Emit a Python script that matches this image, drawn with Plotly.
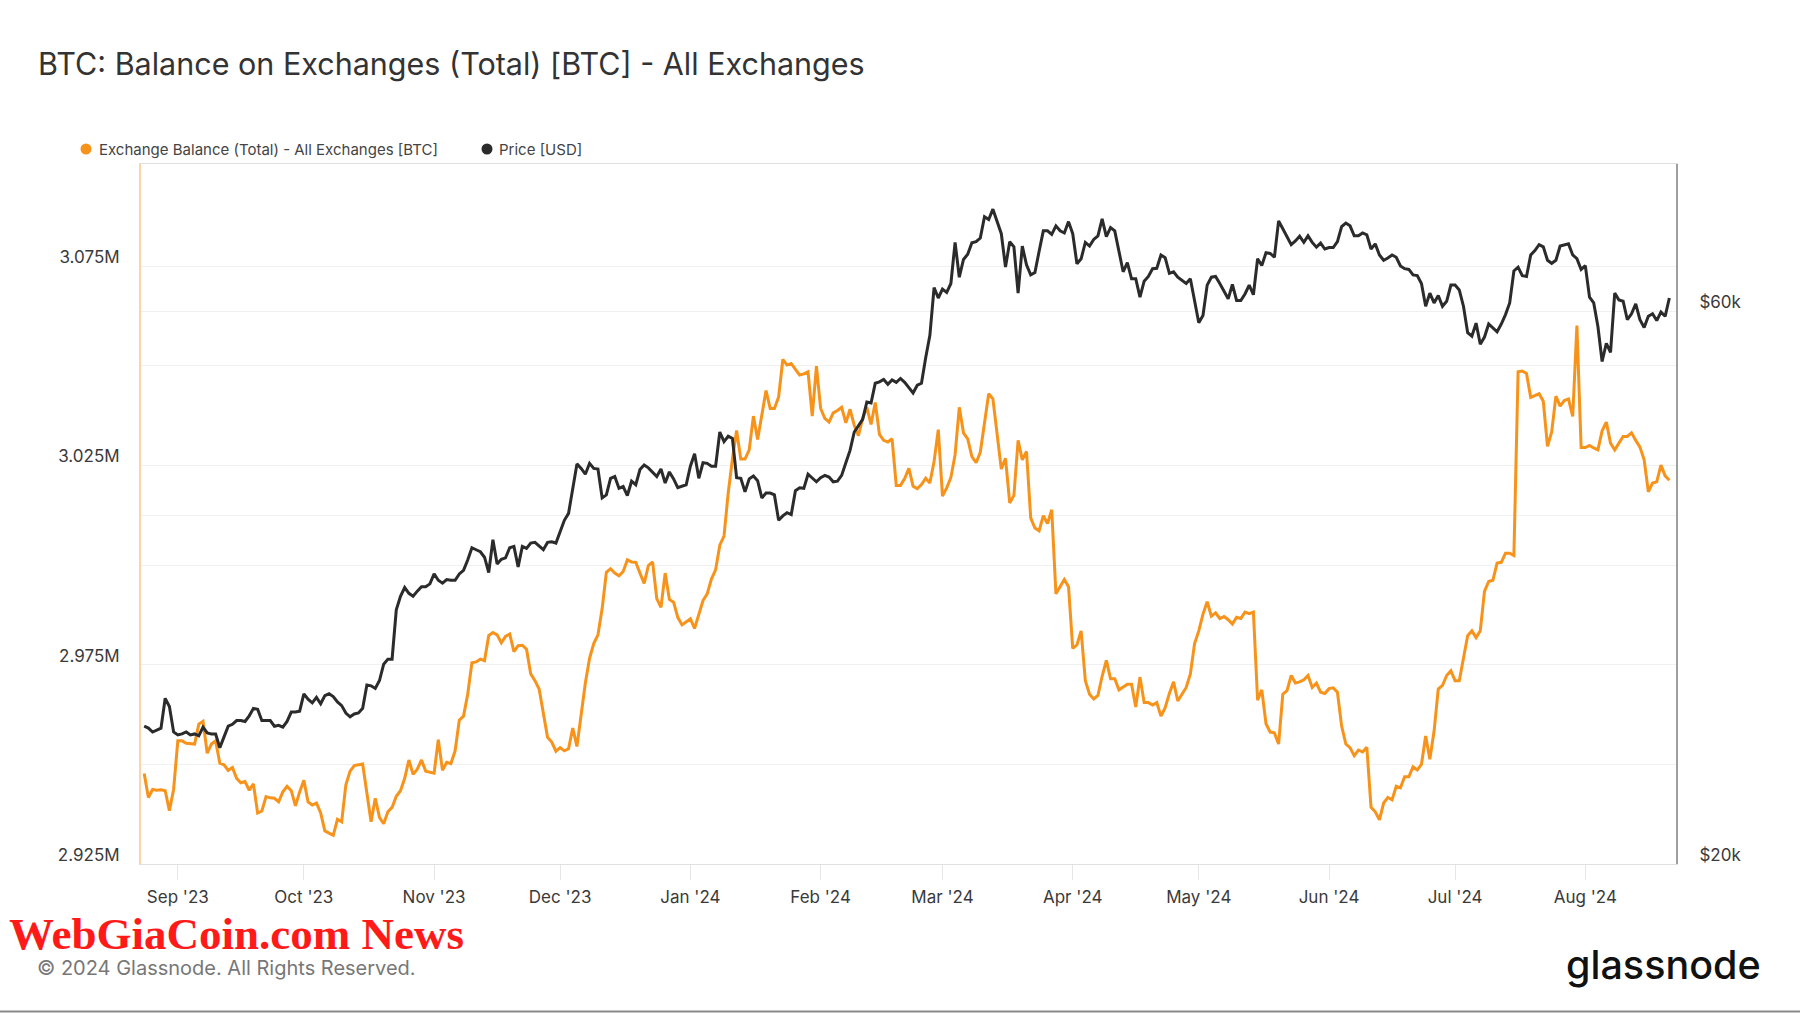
import pandas as pd
import plotly.graph_objects as go

# ---------------- data ----------------
FIRST_DAY = "2023-08-24"   # daily values from this date onward

# Exchange Balance (Total) - All Exchanges, thousands of BTC, one value per day
balance_kbtc = [
    2947.7, 2941.7, 2943.7, 2943.5, 2943.6, 2943.4, 2938.4, 2943.7,            # Aug 24 - Aug 31
    2955.9, 2955.9, 2955.3, 2955.2, 2955.1, 2960.1, 2960.8, 2952.8, 2955.1, 2955.9,
    2950.3, 2949.9, 2948.5, 2949.2, 2946.5, 2945.4, 2945.7, 2943.5, 2945.1, 2937.8,
    2938.3, 2941.9, 2941.6, 2941.5, 2940.6, 2943.1, 2944.5, 2943.4, 2939.6, 2943.1,  # Sep
    2946.0, 2940.6, 2939.8, 2940.3, 2937.8, 2933.3, 2932.7, 2932.2, 2936.2, 2935.6,
    2944.9, 2948.3, 2949.7, 2949.9, 2950.1, 2942.8, 2935.6, 2941.5, 2936.7, 2935.1,
    2938.1, 2939.2, 2942.0, 2943.4, 2946.5, 2951.1, 2947.5, 2948.8, 2951.1, 2948.3,
    2948.0,                                                                      # Oct
    2947.8, 2956.2, 2948.5, 2950.5, 2950.2, 2953.4, 2961.1, 2962.1, 2967.6, 2975.5,
    2975.7, 2976.4, 2976.0, 2982.3, 2983.1, 2982.5, 2980.5, 2982.1, 2982.7, 2978.3,
    2979.8, 2979.9, 2978.9, 2972.7, 2971.0, 2968.9, 2962.5, 2956.8, 2955.6, 2953.3,  # Nov
    2954.2, 2953.4, 2953.9, 2959.1, 2954.5, 2962.5, 2970.4, 2976.6, 2980.3, 2982.5,
    2989.1, 2998.2, 2999.1, 2998.0, 2997.3, 2998.4, 3001.3, 3000.8, 3000.7, 2998.0,
    2995.4, 2999.9, 3000.8, 2991.6, 2989.4, 2998.0, 2991.4, 2990.7, 2986.9, 2985.0,
    2985.7,                                                                      # Dec
    2986.5, 2984.1, 2987.4, 2991.1, 2992.8, 2996.5, 2998.8, 3005.0, 3007.3, 3018.1,
    3026.6, 3033.8, 3026.6, 3026.6, 3028.9, 3037.4, 3031.5, 3037.4, 3043.8, 3039.3,
    3039.3, 3042.2, 3051.6, 3050.2, 3050.6, 3049.1, 3047.7, 3048.0, 3048.5, 3037.4,
    3049.9,                                                                      # Jan
    3039.3, 3036.8, 3035.9, 3038.2, 3038.8, 3039.6, 3035.7, 3039.1, 3035.1, 3032.5,
    3036.8, 3039.6, 3035.3, 3040.8, 3032.8, 3031.3, 3030.9, 3031.7, 3020.0, 3020.0,
    3021.7, 3024.3, 3019.8, 3019.2, 3020.2, 3021.8, 3020.6, 3026.0, 3034.0,        # Feb
    3017.3, 3019.4, 3022.0, 3027.7, 3039.6, 3033.2, 3031.7, 3027.2, 3025.7, 3028.3,
    3036.2, 3043.0, 3041.7, 3032.8, 3024.1, 3026.8, 3015.6, 3017.5, 3031.3, 3026.4,
    3028.5, 3011.8, 3009.3, 3008.6, 3012.4, 3010.4, 3013.9, 2992.8, 2994.8, 2996.4,
    2994.6,                                                                      # Mar
    2979.1, 2980.0, 2983.5, 2971.0, 2967.6, 2966.4, 2967.3, 2972.1, 2976.1, 2971.5,
    2971.5, 2968.7, 2969.3, 2970.1, 2970.1, 2964.4, 2971.9, 2965.5, 2965.5, 2964.9,
    2965.5, 2962.1, 2964.2, 2967.8, 2970.7, 2965.9, 2967.6, 2969.3, 2972.7, 2980.3,  # Apr
    2983.5, 2987.7, 2990.8, 2987.2, 2988.0, 2986.6, 2987.1, 2986.3, 2985.2, 2986.9,
    2986.6, 2988.2, 2987.8, 2988.2, 2966.1, 2968.7, 2960.2, 2958.1, 2957.9, 2955.1,
    2967.6, 2968.5, 2972.3, 2970.4, 2970.7, 2971.2, 2972.3, 2969.3, 2970.4, 2968.1,
    2967.8,                                                                      # May
    2969.0, 2969.2, 2968.1, 2959.6, 2955.1, 2954.2, 2952.2, 2953.6, 2953.1, 2954.3,
    2939.2, 2938.1, 2936.1, 2940.3, 2941.7, 2941.1, 2944.5, 2944.1, 2946.9, 2946.9,
    2949.4, 2948.6, 2950.0, 2957.1, 2951.3, 2958.3, 2968.9, 2969.8, 2972.3, 2973.5,  # Jun
    2971.0, 2971.0, 2976.6, 2982.3, 2983.5, 2981.8, 2983.5, 2993.4, 2995.9, 2996.2,
    3000.5, 3000.7, 3003.0, 3003.0, 3002.4, 3048.5, 3048.7, 3048.1, 3042.1, 3042.5,
    3043.0, 3041.1, 3029.8, 3033.4, 3042.4, 3039.9, 3041.3, 3041.7, 3037.3, 3060.1,
    3029.5,                                                                      # Jul
    3029.5, 3030.0, 3029.4, 3028.9, 3033.7, 3035.9, 3030.6, 3028.9, 3030.6, 3032.3,
    3032.3, 3033.2, 3031.3, 3029.6, 3026.4, 3018.4, 3020.6, 3020.9, 3025.1, 3022.4,
    3021.3,                                                                      # Aug 1 - Aug 21
]

# Price [USD], thousands of USD, one value per day (same dates)
price_kusd = [
    26.3, 26.2, 26.0, 26.1, 26.2, 27.8, 27.35, 26.0,
    25.85, 25.9, 26.0, 25.85, 25.9, 25.8, 26.25, 25.95, 25.9, 25.9,
    25.2, 25.75, 26.3, 26.4, 26.6, 26.6, 26.55, 26.85, 27.25, 27.2,
    26.6, 26.6, 26.6, 26.3, 26.35, 26.25, 26.55, 27.05, 27.05, 27.1,
    28.05, 27.75, 27.55, 27.85, 27.5, 27.95, 28.05, 27.9, 27.6, 27.4,
    27.0, 26.8, 26.95, 27.0, 27.25, 28.55, 28.5, 28.35, 28.8, 29.75,
    30.05, 30.05, 33.15, 34.05, 34.65, 34.25, 34.05, 34.4, 34.7, 34.7,
    34.9,
    35.6, 35.15, 34.95, 35.2, 35.15, 35.15, 35.6, 35.85, 36.6, 37.5,
    37.35, 37.2, 36.8, 35.7, 38.1, 36.3, 36.65, 36.75, 37.5, 37.6,
    36.1, 37.6, 37.45, 37.85, 37.9, 37.6, 37.35, 37.9, 37.95, 37.85,
    38.8, 39.6, 40.15, 42.2, 44.3, 43.9, 43.4, 44.35, 43.9, 43.85,
    41.4, 41.65, 43.05, 43.2, 42.2, 42.35, 41.6, 42.8, 42.5, 43.8,
    44.2, 43.95, 43.6, 43.2, 43.85, 42.65, 43.6, 43.0, 42.25, 42.35,
    42.5,
    44.1, 45.2, 43.05, 44.4, 44.35, 44.1, 44.1, 47.2, 46.3, 46.8,
    46.6, 43.1, 43.05, 41.9, 43.0, 43.25, 42.85, 41.4, 41.8, 41.8,
    41.65, 39.6, 39.95, 40.2, 40.05, 42.0, 42.25, 42.2, 43.4, 43.05,
    42.75,
    43.1, 43.3, 43.15, 42.75, 42.8, 43.3, 44.4, 45.5, 47.2, 47.75,
    48.4, 50.1, 50.0, 52.0, 52.15, 52.4, 51.9, 52.35, 52.1, 52.5,
    52.1, 51.55, 51.0, 51.8, 52.0, 54.7, 57.2, 62.9, 61.6,
    62.7, 62.3, 63.4, 68.8, 64.2, 66.5, 67.2, 68.75, 68.9, 69.4,
    72.4, 72.0, 73.5, 71.8, 70.0, 65.5, 68.9, 68.2, 62.2, 68.3,
    65.8, 64.5, 64.8, 67.6, 70.4, 70.4, 69.9, 71.1, 70.4, 70.1,
    71.7,
    70.0, 65.95, 66.6, 68.8, 68.3, 69.2, 69.7, 72.1, 69.6, 70.85,
    70.4, 67.6, 64.9, 66.1, 64.0, 64.0, 61.7, 63.7, 64.3, 65.3,
    65.35, 67.1, 66.75, 64.7, 64.9, 64.2, 63.8, 63.4, 64.0, 61.0,
    58.65, 59.5, 63.2, 64.2, 64.3, 63.4, 62.5, 61.5, 63.3, 61.3,
    61.3, 62.1, 63.2, 62.0, 66.6, 65.7, 67.4, 67.3, 66.8, 71.8,
    70.7, 69.65, 68.5, 69.0, 69.65, 68.8, 69.7, 68.8, 68.15, 68.7,
    67.9,
    68.1, 68.1, 68.9, 71.0, 71.5, 71.1, 69.7, 69.7, 70.1, 69.85,
    67.9, 68.6, 67.1, 66.4, 66.7, 67.1, 66.8, 65.65, 65.3, 65.2,
    64.5, 64.4, 63.4, 60.6, 62.2, 61.0, 61.9, 60.6, 61.2, 63.2,
    63.2, 62.6, 60.6, 57.5, 57.1, 58.6, 56.2, 57.0, 58.5, 58.1,
    57.6, 58.5, 59.6, 61.0, 65.0, 65.5, 64.4, 64.3, 67.1, 67.7,
    68.5, 68.2, 66.4, 66.0, 66.4, 68.3, 68.5, 68.6, 67.1, 66.6,
    65.2,
    65.7, 61.7, 61.0, 58.2, 54.3, 56.3, 55.3, 62.2, 61.35, 61.2,
    59.0, 59.7, 60.9, 59.0, 58.1, 59.4, 59.7, 58.9, 59.9, 59.4,
    61.6,
]

month_ticks = ["2023-09-01", "2023-10-01", "2023-11-01", "2023-12-01", "2024-01-01",
               "2024-02-01", "2024-03-01", "2024-04-01", "2024-05-01", "2024-06-01",
               "2024-07-01", "2024-08-01"]
month_labels = ["Sep '23", "Oct '23", "Nov '23", "Dec '23", "Jan '24", "Feb '24",
                "Mar '24", "Apr '24", "May '24", "Jun '24", "Jul '24", "Aug '24"]

balance_tickvals = [2925000, 2950000, 2975000, 3000000, 3025000, 3050000, 3075000]
balance_ticktext = ["2.925M", "", "2.975M", "", "3.025M", "", "3.075M"]
price_tickvals = [20000, 40000, 60000]
price_ticktext = ["$20k", "", "$60k"]

series_names = ["Exchange Balance (Total) - All Exchanges [BTC]", "Price [USD]"]

# ---------------- styling ----------------
ORANGE = "#F7931A"
DARK = "#2B2B2B"
FONT = "Inter, Noto Sans, sans-serif"
GRID = "#F0F0F0"

dates_bal = pd.date_range(FIRST_DAY, periods=len(balance_kbtc), freq="D")
dates_px = pd.date_range(FIRST_DAY, periods=len(price_kusd), freq="D")

fig = go.Figure()
fig.add_trace(go.Scatter(
    x=dates_bal, y=[v * 1000 for v in balance_kbtc], name=series_names[0],
    mode="lines", line=dict(color=ORANGE, width=3), yaxis="y", showlegend=False,
))
fig.add_trace(go.Scatter(
    x=dates_px, y=[v * 1000 for v in price_kusd], name=series_names[1],
    mode="lines", line=dict(color=DARK, width=3), yaxis="y2", showlegend=False,
))

# plot area: x 141..1676 px, y 164..864 px
L, R, T, B = 141, 124, 164, 149
PW, PH = 1800 - L - R, 1013 - T - B


def px(X):
    return (X - L) / PW


def py(Y):
    return (T + PH - Y) / PH


fig.update_layout(
    width=1800, height=1013, autosize=False,
    margin=dict(l=L, r=R, t=T, b=B),
    paper_bgcolor="white", plot_bgcolor="white",
    font=dict(family=FONT, color="#3A3A3A"),
    title=dict(
        text="BTC: Balance on Exchanges (Total) [BTC] - All Exchanges",
        font=dict(family=FONT, size=30.5, color="#333333"),
        x=38 / 1800, xref="container", xanchor="left",
        y=1 - 64 / 1013, yref="container", yanchor="middle",
    ),
    xaxis=dict(
        type="date", range=["2023-08-23 05:45", "2024-08-22 14:00"],
        tickvals=month_ticks, ticktext=month_labels,
        ticks="outside", ticklen=15, tickwidth=1, tickcolor="#E6E6E6",
        tickfont=dict(size=17, color="#3A3A3A"), ticklabelstandoff=3,
        showgrid=False, zeroline=False,
        showline=True, linecolor="#E0E0E0", linewidth=1, mirror=True,
    ),
    yaxis=dict(
        range=[2925000, 3100650],
        tickvals=balance_tickvals, ticktext=balance_ticktext,
        ticks="", tickfont=dict(size=17, color="#3A3A3A"),
        ticklabelstandoff=16, ticklabelshift=-9,
        showgrid=True, gridcolor=GRID, gridwidth=1, zeroline=False,
        showline=True, linecolor="#FFD3A8", linewidth=2,
    ),
    yaxis2=dict(
        type="log", range=[4.30103, 4.90526], overlaying="y", side="right",
        tickvals=price_tickvals, ticktext=price_ticktext,
        ticks="", tickfont=dict(size=17, color="#3A3A3A"),
        ticklabelstandoff=18, ticklabelshift=-9,
        showgrid=True, gridcolor=GRID, gridwidth=1, zeroline=False,
        showline=True, linecolor="#9E9E9E", linewidth=2,
    ),
)

# legend (drawn as dots + text, as in the reference)
legend_y = py(149)
for name, color, dot_x, text_x in [(series_names[0], ORANGE, 86, 97),
                                   (series_names[1], DARK, 487, 497)]:
    fig.add_shape(type="circle", xref="paper", yref="paper",
                  xsizemode="pixel", ysizemode="pixel",
                  xanchor=px(dot_x), yanchor=legend_y,
                  x0=-5.5, x1=5.5, y0=-5.5, y1=5.5,
                  fillcolor=color, line=dict(width=0))
    fig.add_annotation(text=name, xref="paper", yref="paper",
                       x=px(text_x), y=legend_y, xanchor="left", yanchor="middle",
                       showarrow=False, font=dict(family=FONT, size=15, color="#444444"))

# footer texts
fig.add_annotation(text="WebGiaCoin.com News", xref="paper", yref="paper",
                   x=px(7), y=py(934), xanchor="left", yanchor="middle", showarrow=False,
                   font=dict(family="Liberation Serif, DejaVu Serif, serif", size=45,
                             color="#FF1A1A", weight="bold"))
fig.add_annotation(text="© 2024 Glassnode. All Rights Reserved.", xref="paper", yref="paper",
                   x=px(35), y=py(968), xanchor="left", yanchor="middle", showarrow=False,
                   font=dict(family=FONT, size=20, color="#777777"))
fig.add_annotation(text="glassnode", xref="paper", yref="paper",
                   x=px(1763), y=py(965), xanchor="right", yanchor="middle", showarrow=False,
                   font=dict(family=FONT, size=39.5, color="#111111", weight=500))

# thin grey rule at the very bottom of the image
fig.add_shape(type="line", xref="paper", yref="paper",
              x0=px(0), x1=px(1800), y0=py(1011.5), y1=py(1011.5),
              line=dict(color="#8A8A8A", width=2))

# the page itself should have no body margin so the figure sits at (0, 0)
fig.write_html("out.html",
               config={"displayModeBar": False},
               post_script="document.body.style.margin='0';document.body.style.overflow='hidden';")
